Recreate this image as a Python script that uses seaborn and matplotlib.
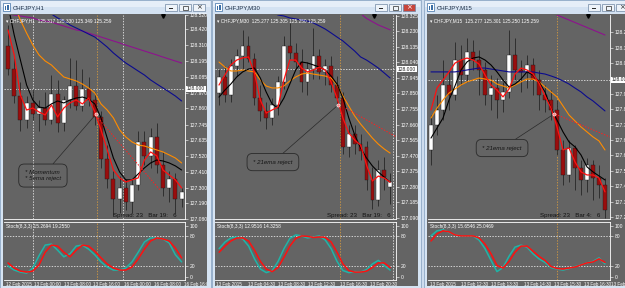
import numpy as np
import matplotlib
matplotlib.use("Agg")
import matplotlib.pyplot as plt
import seaborn as sns
from matplotlib.patches import Rectangle
from matplotlib.transforms import Bbox, TransformedBbox, blended_transform_factory

nan = np.nan

# ---------------- data ----------------
titles = ["CHFJPY,H1", "CHFJPY,M30", "CHFJPY,M15"]
headers = ["\u25be CHFJPY,H1  125.317 125.330 125.349 125.259",
           "\u25be CHFJPY,M30  125.277 125.305 125.250 125.259",
           "\u25be CHFJPY,M15  125.277 125.301 125.250 125.259"]
stoch_headers = ["Stoch(8,3,3) 15.2694 19.2550",
                 "Stoch(8,3,3) 12.9516 14.3258",
                 "Stoch(8,3,3) 15.6546 25.0469"]
spread_texts = ["Spread: 23   Bar 19:   6", "Spread: 23   Bar 19:   6", "Spread: 23   Bar 4:   6"]
notes = ["* Momentum\n* 5ema reject", "* 21ema reject", "* 21ema reject"]

level_price = 128.000
stoch_levels = [80, 20]
stoch_ticks = [100, 80, 20, 0]

# ---- panel 1 (H1) ----
p1_open = [128.30,128.14,127.95,127.78,127.90,127.82,127.86,127.78,127.96,127.76,127.92,128.02,127.88,128.00,127.92,127.80,127.50,127.36,127.22,127.30,127.20,127.32,127.62,127.52,127.66,127.46,127.30,127.36,127.22]
p1_close = [128.14,127.95,127.78,127.90,127.82,127.86,127.78,127.96,127.76,127.92,128.02,127.88,128.00,127.92,127.80,127.50,127.36,127.22,127.30,127.20,127.32,127.62,127.52,127.66,127.46,127.30,127.36,127.22,127.27]
p1_high = [128.45,128.22,128.05,127.95,128.00,127.92,127.98,128.10,128.06,127.95,128.22,128.20,128.14,128.08,127.98,127.84,127.60,127.42,127.38,127.36,127.36,127.70,127.70,127.72,127.76,127.55,127.42,127.40,127.30]
p1_low = [128.10,127.90,127.70,127.72,127.78,127.70,127.74,127.75,127.69,127.70,127.86,127.85,127.84,127.88,127.74,127.44,127.30,127.10,127.12,127.14,127.12,127.28,127.46,127.44,127.40,127.24,127.20,127.12,127.16]
p1_red = [128.416,128.239,127.955,127.849,127.863,127.835,127.814,127.885,127.800,127.863,127.899,127.920,127.892,127.934,127.835,127.708,127.566,127.424,127.368,127.339,127.354,127.368,127.495,127.552,127.524,127.424,127.389,127.354,127.297]
p1_black = [128.593,128.380,128.203,128.026,127.920,127.870,127.863,127.892,127.913,127.899,127.920,127.934,127.941,127.927,127.892,127.793,127.651,127.509,127.410,127.354,127.354,127.396,127.439,127.474,127.495,127.488,127.474,127.453,127.424]
p1_orange = [128.699,128.593,128.486,128.394,128.309,128.239,128.196,128.168,128.125,128.083,128.069,128.055,128.033,128.005,127.970,127.892,127.849,127.793,127.708,127.658,127.623,127.601,127.594,127.580,127.566,127.552,127.531,127.509,127.474]
p1_navy = [nan,nan,nan,nan,nan,nan,128.560,128.529,128.501,128.479,128.451,128.430,128.409,128.387,128.366,128.331,128.295,128.253,128.217,128.182,128.154,128.125,128.097,128.062,128.033,128.005,127.977,127.948,127.913]
p1_purple = [128.529,128.522,128.515,128.508,128.501,128.486,128.479,128.472,128.458,128.444,128.430,128.416,128.409,128.394,128.380,128.366,128.352,128.338,128.324,128.309,128.295,128.281,128.267,128.253,128.239,128.224,128.210,128.196,128.182]
p1_trend_x = [14.5, 24.5]
p1_trend_y = [127.793, 127.283]
p1_stoch_main = [21,13,9,7,17,41,62,64,52,39,45,60,62,54,43,29,19,13,13,17,29,48,68,76,76,74,66,43,29]
p1_stoch_sig = [27,17,11,9,11,23,48,62,60,48,39,52,62,60,50,37,25,17,13,13,19,35,54,70,76,74,70,56,37]
p1_price_ticks = [128.520,128.420,128.310,128.195,128.085,127.970,127.860,127.745,127.635,127.520,127.410,127.300,127.190,127.080]
p1_dates = ["12 Feb 2015","13 Feb 00:00","13 Feb 08:00","13 Feb 16:00","16 Feb 00:00","16 Feb 08:00","16 Feb 16:00"]
p1_date_pos = [-0.6, 4.0, 8.8, 13.4, 18.5, 23.3, 28.2]
p1_sep_white = [4.0, 18.5]
p1_sep_orange = [14.3]
p1_reject = (14.2, 127.82)
p1_green_x = [15.5, 17.0]
p1_green_lo = [127.446, 127.141]
p1_green_hi = [127.644, 127.354]

# ---- panel 2 (M30) ----
p2_open = [127.85,127.95,127.84,128.02,128.08,128.14,128.06,127.82,127.74,127.70,127.78,127.92,128.14,128.10,128.04,127.92,128.00,128.08,127.98,128.02,127.90,127.82,127.52,127.60,127.54,127.52,127.32,127.20,127.38,127.28]
p2_close = [127.95,127.84,128.02,128.08,128.14,128.06,127.82,127.74,127.70,127.78,127.92,128.14,128.10,128.04,127.92,128.00,128.08,127.98,128.02,127.90,127.82,127.52,127.60,127.54,127.50,127.32,127.20,127.38,127.34,127.31]
p2_high = [128.00,128.02,128.06,128.12,128.24,128.20,128.10,127.90,127.80,127.82,127.96,128.20,128.28,128.16,128.12,128.04,128.25,128.12,128.06,128.08,127.96,127.86,127.66,127.66,127.60,127.56,127.40,127.44,127.46,127.36]
p2_low = [127.78,127.80,127.80,127.96,128.00,128.04,127.78,127.68,127.63,127.66,127.72,127.88,128.06,128.00,127.86,127.84,127.94,127.94,127.90,127.86,127.78,127.48,127.46,127.48,127.44,127.26,127.14,127.16,127.26,127.17]
p2_red = [127.902,127.963,128.025,128.055,128.068,128.074,127.976,127.810,127.730,127.749,127.767,127.933,128.055,128.055,128.006,127.982,127.994,128.012,127.994,127.920,127.822,127.700,127.608,127.565,127.534,127.412,127.314,127.344,127.332,127.307]
p2_black = [127.828,127.871,127.908,127.951,127.982,128.000,128.006,127.945,127.859,127.786,127.761,127.822,127.908,127.994,128.043,128.037,128.025,128.012,127.994,127.957,127.908,127.822,127.700,127.596,127.516,127.455,127.406,127.369,127.338,127.307]
p2_orange = [128.043,128.012,127.988,127.988,127.994,127.988,127.982,127.933,127.896,127.884,127.884,127.896,127.927,127.951,127.969,127.976,127.969,127.963,127.957,127.945,127.902,127.835,127.773,127.712,127.663,127.620,127.577,127.540,127.510,127.485]
p2_navy = [nan,nan,nan,nan,nan,nan,nan,nan,nan,128.350,128.331,128.325,128.313,128.307,128.300,128.294,128.282,128.264,128.245,128.221,128.196,128.172,128.141,128.110,128.074,128.055,128.031,128.006,127.976,127.945]
p2_purple = [nan]*24 + [128.340,128.310,128.290,128.270,128.255,128.240]
p2_trend_x = [21.5, 30.0]
p2_trend_y = [127.760, 127.585]
p2_stoch_main = [55,68,76,78,74,60,35,15,8,12,30,55,75,82,80,76,78,80,72,55,30,12,8,10,9,14,25,32,22,13]
p2_stoch_sig = [48,60,70,76,76,70,52,30,15,10,18,38,60,75,80,79,77,78,77,68,48,25,12,9,9,11,18,27,27,18]
p2_price_ticks = [128.325,128.230,128.135,128.040,127.945,127.850,127.755,127.660,127.565,127.470,127.375,127.280,127.185,127.090]
p2_dates = ["13 Feb 2015","13 Feb 04:30","13 Feb 08:30","13 Feb 12:30","13 Feb 16:30","13 Feb 20:30"]
p2_date_pos = [-0.7, 4.6, 9.8, 14.9, 20.2, 25.3]
p2_sep_white = [29.5]
p2_sep_orange = [20.5]
p2_reject = (20.2, 127.78)

# ---- panel 3 (M15) ----
p3_open = [127.636,127.766,127.844,127.974,127.922,128.104,128.026,128.146,128.104,128.052,127.922,127.958,127.896,127.938,128.130,128.052,128.042,128.078,128.000,127.922,127.896,127.844,127.636,127.506,127.646,127.542,127.480,127.558,127.490,127.454]
p3_close = [127.766,127.844,127.974,127.922,128.104,128.026,128.146,128.104,128.052,127.922,127.958,127.896,127.938,128.130,128.052,128.042,128.078,128.000,127.922,127.896,127.844,127.636,127.506,127.646,127.542,127.480,127.558,127.490,127.454,127.324]
p3_high = [127.818,127.922,128.104,128.052,128.198,128.182,128.218,128.208,128.156,128.094,128.026,128.010,127.990,128.260,128.218,128.104,128.130,128.114,128.052,127.974,127.948,127.896,127.688,127.688,127.662,127.584,127.594,127.584,127.558,127.490]
p3_low = [127.558,127.714,127.792,127.844,127.896,127.974,127.990,128.052,127.922,127.870,127.844,127.802,127.834,127.906,128.000,127.938,127.958,127.922,127.844,127.834,127.792,127.610,127.454,127.470,127.428,127.402,127.418,127.376,127.386,127.282]
p3_red = [127.844,127.958,128.000,128.042,128.088,128.104,128.114,128.104,128.083,128.026,127.974,127.948,127.912,127.953,128.031,128.062,128.052,128.031,127.984,127.917,127.854,127.756,127.636,127.646,127.574,127.522,127.506,127.506,127.490,127.418]
p3_black = [127.698,127.750,127.802,127.896,127.969,128.052,128.094,128.114,128.120,128.104,128.078,128.042,128.000,127.964,127.979,128.005,128.042,128.026,127.990,127.938,127.854,127.792,127.730,127.678,127.652,127.610,127.548,127.522,127.501,127.480]
p3_orange = [127.802,127.854,127.896,127.932,127.953,127.974,127.990,128.000,128.010,128.005,128.000,127.979,127.969,127.958,127.974,127.990,128.005,128.005,127.990,127.964,127.938,127.912,127.865,127.818,127.787,127.756,127.730,127.704,127.683,127.636]
p3_navy = [128.042,128.042,128.042,128.042,128.042,128.047,128.052,128.057,128.062,128.062,128.057,128.052,128.047,128.042,128.042,128.042,128.042,128.042,128.036,128.031,128.021,128.010,127.995,127.979,127.958,127.938,127.912,127.891,127.865,127.839]
p3_purple = [nan]*20 + [128.350,128.338,128.325,128.312,128.299,128.286,128.273,128.260,128.247,128.234]
p3_trend_x = [20.3, 29.8]
p3_trend_y = [127.828, 127.704]
p3_stoch_main = [80,90,92,87,82,80,80,80,72,55,32,10,18,40,58,62,58,45,35,28,18,15,13,16,20,23,27,30,37,25]
p3_stoch_sig = [70,84,90,88,82,80,80,80,76,64,45,22,17,30,48,60,60,50,40,32,20,16,15,17,19,23,27,29,35,28]
p3_price_ticks = [128.248,128.168,128.088,127.928,127.848,127.768,127.688,127.608,127.528,127.448,127.368,127.288]
p3_dates = ["13 Feb 2015","13 Feb 12:30","13 Feb 13:30","13 Feb 14:30","13 Feb 15:30","13 Feb 16:30","13 Feb 17:30"]
p3_date_pos = [-0.5, 4.8, 9.8, 15.2, 20.3, 25.3, 29.8]
p3_sep_white = []
p3_sep_orange = [21.0]
p3_reject = (20.5, 127.823)

# ---------------- style / layout ----------------
W, H = 625, 288
sns.set_theme(style="dark")
plt.rcParams['font.family'] = ['Liberation Sans', 'DejaVu Sans']
GRAY = '#646464'
fig = plt.figure(figsize=(W / 100, H / 100), dpi=100)
fig.patch.set_facecolor('#cddcee')


def frect(x0, y0, x1, y1, **kw):
    r = Rectangle((x0 / W, 1 - y1 / H), (x1 - x0) / W, (y1 - y0) / H,
                  transform=fig.transFigure, **kw)
    fig.add_artist(r)
    return r


def fax(x0, y0, x1, y1):
    return fig.add_axes([x0 / W, 1 - y1 / H, (x1 - x0) / W, (y1 - y0) / H])


def draw_window(wx0, wx1, content_r, title, active):
    frect(wx0, 0, wx1, 288, facecolor='#d6e4f3', edgecolor='#8fa8c6', lw=0.6, zorder=-6)
    frect(wx0 + 1, 1, wx1 - 1, 7, facecolor='#e6eef8', edgecolor='none', zorder=-5)
    frect(wx0 + 1, 7, wx1 - 1, 14, facecolor='#d4e2f2', edgecolor='none', zorder=-5)
    frect(wx0 + 3, 3, wx0 + 10, 11, facecolor='#ffffff', edgecolor='#3b6ea5', lw=0.5, zorder=-4)
    frect(wx0 + 4.5, 6, wx0 + 6, 10, facecolor='#3b6ea5', edgecolor='none', zorder=-4)
    frect(wx0 + 7, 5, wx0 + 8.5, 10, facecolor='#3b6ea5', edgecolor='none', zorder=-4)
    fig.text((wx0 + 13) / W, 1 - 7.5 / H, title, fontsize=4.3, color='#1b2d45',
             va='center', ha='left')
    right = wx1 if wx1 < W else 634
    for k, off in enumerate([-46, -32, -18]):
        bx = right + off
        closebtn = (k == 2)
        fc = '#c8453b' if (closebtn and active) else '#eef3f9'
        frect(bx, 3.5, bx + 12, 11, facecolor=fc, edgecolor='#6f86a3', lw=0.5, zorder=-4)
        gc = 'white' if (closebtn and active) else '#2a2a2a'
        if k == 0:
            frect(bx + 4, 8.3, bx + 8, 9.2, facecolor=gc, edgecolor='none', zorder=-3)
        elif k == 1:
            frect(bx + 4, 5.5, bx + 8.5, 9.5, facecolor='none', edgecolor=gc, lw=0.5, zorder=-3)
        else:
            fig.text((bx + 6) / W, 1 - 7.3 / H, '\u00d7', fontsize=5, color=gc,
                     ha='center', va='center', family=['DejaVu Sans'])
    frect(wx0 + 3, 14, content_r, 286, facecolor=GRAY, edgecolor='none', zorder=-4)


def draw_panel(win, content_r, chart, x0, dx, ylim, title, active,
               o, hi, lo, c, red, black, orange, navy, purple, tx, ty,
               st_main, st_sig, pticks, dates, dpos, sep_w, sep_o, reject,
               header, sheader, spread, note, note_pos, spread_x):
    draw_window(win[0], win[1], content_r, title, active)
    cx0, cx1 = chart
    xlim = ((cx0 - x0) / dx, (cx1 - x0) / dx)
    clipbox = TransformedBbox(Bbox.from_extents((win[0] + 3) / W, 0, content_r / W, 1),
                              fig.transFigure)

    ax = fax(cx0, 15, cx1, 219)
    ax.set_facecolor(GRAY)
    idx = np.arange(len(o))
    o, hi, lo, c = map(np.asarray, (o, hi, lo, c))
    for s in sep_w:
        ax.axvline(s, color='white', lw=0.5, ls=(0, (2, 2)), zorder=1)
    for s in sep_o:
        ax.axvline(s, color='#e8a33a', lw=0.5, ls=(0, (2, 2)), zorder=1)
    ax.axhline(level_price, color='white', lw=0.5, ls=(0, (2, 2)), zorder=1)
    ax.vlines(idx, lo, hi, color='#262626', lw=0.6, zorder=2)
    bull = c >= o
    ax.bar(idx, np.maximum(np.abs(c - o), 0.004), bottom=np.minimum(o, c), width=0.62,
           color=np.where(bull, '#ffffff', '#9a0d0d'), edgecolor='#1c1c1c',
           linewidth=0.3, zorder=3)
    for arr, col, lw in [(purple, '#8e128e', 0.8), (navy, '#0b0b8e', 0.8),
                         (orange, '#ff8c00', 0.8), (black, '#000000', 0.8),
                         (red, '#ff1010', 0.9)]:
        sns.lineplot(x=idx, y=arr, ax=ax, color=col, linewidth=lw, zorder=4,
                     legend=False, errorbar=None, sort=False)
    sns.lineplot(x=tx, y=ty, ax=ax, color='#ff2020', linewidth=0.7,
                 linestyle=(0, (1.5, 1.5)), zorder=4, legend=False, errorbar=None)
    ax.plot([reject[0]], [reject[1]], marker='o', ms=2.3, mfc='#ff8080', mec='white',
            mew=0.4, zorder=6)
    ax.set_xlim(*xlim)
    ax.set_ylim(*ylim)
    ax.set_xticks([])
    ax.set_xlabel('')
    ax.set_ylabel('')
    ax.yaxis.tick_right()
    ax.set_yticks(pticks)
    ax.set_yticklabels([f'{v:.3f}' for v in pticks])
    ax.tick_params(axis='y', colors='white', labelsize=3.6, length=2, width=0.4, pad=1.5)
    ax.grid(False)
    for sp in ['left', 'top']:
        ax.spines[sp].set_visible(False)
    for sp in ['right', 'bottom']:
        ax.spines[sp].set_color('white')
        ax.spines[sp].set_linewidth(0.6)
    bt = blended_transform_factory(ax.transAxes, ax.transData)
    ax.text(1.0 + 2 / (cx1 - cx0), level_price, f'{level_price:.3f}', transform=bt,
            ha='left', va='center', fontsize=3.6, color='#202020', clip_on=False, zorder=8,
            bbox=dict(boxstyle='square,pad=0.12', fc='white', ec='none'))
    ax.text(0.01, 0.985, header, transform=ax.transAxes, ha='left', va='top',
            color='white', fontsize=3.4, zorder=7)
    ax.plot([0.88], [0.995], marker='v', ms=2.6, color='black', transform=ax.transAxes,
            clip_on=False, zorder=7)
    ax.text(spread_x, 0.004, spread, transform=ax.transAxes, ha='left', va='bottom',
            color='#111111', fontsize=4.4, zorder=7)
    ax.annotate(note, xy=reject, xycoords='data', xytext=note_pos,
                textcoords='axes fraction', ha='center', va='center',
                multialignment='left', fontsize=4.4, style='italic', color='#151515',
                bbox=dict(boxstyle='round,pad=1.0,rounding_size=0.9', fc='none',
                          ec='#2a2a2a', lw=0.6),
                arrowprops=dict(arrowstyle='-', color='#2a2a2a', lw=0.5,
                                shrinkA=0, shrinkB=2), zorder=7)

    axs = fax(cx0, 222, cx1, 280)
    axs.set_facecolor(GRAY)
    for s in sep_w:
        axs.axvline(s, color='white', lw=0.5, ls=(0, (2, 2)), zorder=1)
    for s in sep_o:
        axs.axvline(s, color='#e8a33a', lw=0.5, ls=(0, (2, 2)), zorder=1)
    for lv in stoch_levels:
        axs.axhline(lv, color='white', lw=0.5, ls=(0, (2, 2)), zorder=1)
    sns.lineplot(x=idx, y=st_main, ax=axs, color='#1fb5a8', linewidth=1.1, zorder=3,
                 legend=False, errorbar=None, sort=False)
    sns.lineplot(x=idx, y=st_sig, ax=axs, color='#ff1010', linewidth=1.1, zorder=4,
                 legend=False, errorbar=None, sort=False)
    axs.set_xlim(*xlim)
    axs.set_ylim(-6.47, 107.25)
    axs.set_xlabel('')
    axs.set_ylabel('')
    axs.yaxis.tick_right()
    axs.set_yticks(stoch_ticks)
    axs.set_yticklabels([str(v) for v in stoch_ticks])
    axs.tick_params(axis='y', colors='white', labelsize=3.6, length=2, width=0.4, pad=1.5)
    axs.set_xticks(dpos)
    axs.set_xticklabels([])
    axs.tick_params(axis='x', colors='white', length=2, width=0.4, direction='out')
    axs.grid(False)
    axs.spines['left'].set_visible(False)
    for sp in ['right', 'bottom', 'top']:
        axs.spines[sp].set_color('white')
        axs.spines[sp].set_linewidth(0.6)
    axs.text(0.01, 0.97, sheader, transform=axs.transAxes, ha='left', va='top',
             color='white', fontsize=3.4, zorder=7)
    btx = blended_transform_factory(axs.transData, axs.transAxes)
    for p, lab in zip(dpos, dates):
        t = axs.text(p + 0.25, -0.075, lab, transform=btx, ha='left', va='center',
                     color='white', fontsize=3.3, clip_on=True)
        t.set_clip_box(clipbox)


draw_panel((0, 211), 207, (4, 185), 8, 6.2, (127.077, 128.522), titles[0], False,
           p1_open, p1_high, p1_low, p1_close, p1_red, p1_black, p1_orange, p1_navy,
           p1_purple, p1_trend_x, p1_trend_y, p1_stoch_main, p1_stoch_sig,
           p1_price_ticks, p1_dates, p1_date_pos, p1_sep_white, p1_sep_orange, p1_reject,
           headers[0], stoch_headers[0], spread_texts[0], notes[0], (0.215, 0.213), 0.60)
draw_panel((212, 421), 418, (215, 396), 219, 5.9, (127.081, 128.331), titles[1], True,
           p2_open, p2_high, p2_low, p2_close, p2_red, p2_black, p2_orange, p2_navy,
           p2_purple, p2_trend_x, p2_trend_y, p2_stoch_main, p2_stoch_sig,
           p2_price_ticks, p2_dates, p2_date_pos, p2_sep_white, p2_sep_orange, p2_reject,
           headers[1], stoch_headers[1], spread_texts[1], notes[1], (0.32, 0.279), 0.62)
draw_panel((424, 700), 625, (428, 610), 431, 6.0, (127.277, 128.338), titles[2], False,
           p3_open, p3_high, p3_low, p3_close, p3_red, p3_black, p3_orange, p3_navy,
           p3_purple, p3_trend_x, p3_trend_y, p3_stoch_main, p3_stoch_sig,
           p3_price_ticks, p3_dates, p3_date_pos, p3_sep_white, p3_sep_orange, p3_reject,
           headers[2], stoch_headers[2], spread_texts[2], notes[2], (0.407, 0.348), 0.615)

fig.savefig('out.png', dpi=100, facecolor=fig.get_facecolor())
